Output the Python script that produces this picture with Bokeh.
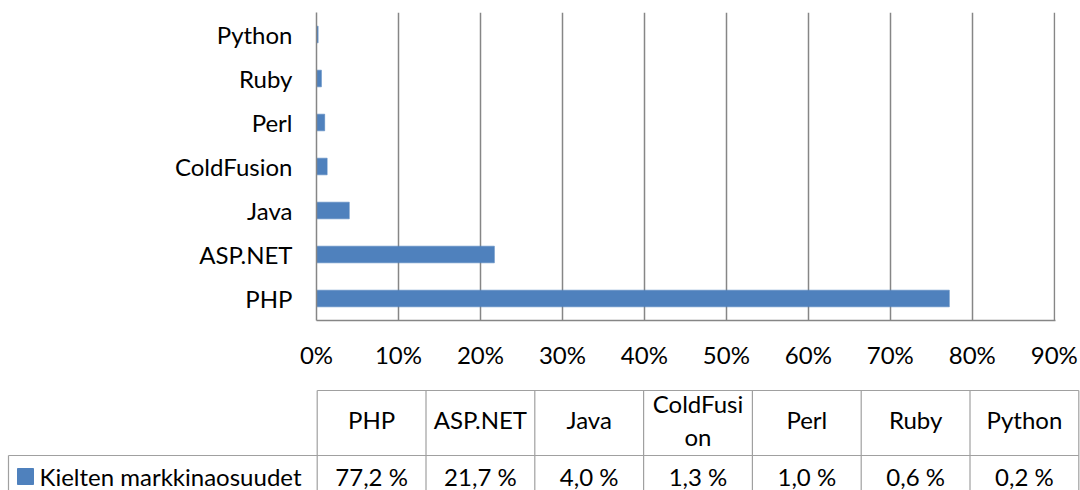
from bokeh.plotting import figure
from bokeh.models import Range1d, FactorRange, FixedTicker, PrintfTickFormatter, ColumnDataSource
from bokeh.embed import file_html
from bokeh.resources import INLINE
from bokeh.core.properties import value

# ---- data ----
categories = ["PHP", "ASP.NET", "Java", "ColdFusion", "Perl", "Ruby", "Python"]
shares = [77.2, 21.7, 4.0, 1.3, 1.0, 0.6, 0.2]
x_ticks = [0, 10, 20, 30, 40, 50, 60, 70, 80, 90]
series_name = "Kielten markkinaosuudet"
table_headers = ["PHP", "ASP.NET", "Java", "ColdFusi\non", "Perl", "Ruby", "Python"]
table_values = [f"{v:.1f} %".replace(".", ",") for v in shares]

# ---- style ----
FONT = "Lato"
FS = "24px"
BAR = "#4F81BD"
GRID = "#868686"
TLINE = "#A0A0A0"
TXT = "#000000"

W = 1080
H1 = 383
H2 = 107

# ---- bar chart ----
p = figure(width=W, height=H1,
           y_range=FactorRange(factors=categories),
           x_range=Range1d(0, 90.15),
           output_backend="svg", toolbar_location=None,
           min_border_left=316, min_border_right=25,
           min_border_top=12, min_border_bottom=63)
p.outline_line_color = None
p.background_fill_color = "white"
p.border_fill_color = "white"

src = ColumnDataSource(dict(cat=categories, share=shares))
p.hbar(y="cat", left=0, right="share", height=0.38, source=src,
       fill_color=BAR, line_color=BAR, line_width=0.5)

p.xaxis.ticker = FixedTicker(ticks=x_ticks)
p.xaxis.formatter = PrintfTickFormatter(format="%d%%")
p.xgrid.ticker = FixedTicker(ticks=x_ticks)
p.xgrid.grid_line_color = GRID
p.xgrid.grid_line_width = 1.5
p.ygrid.grid_line_color = None

for ax in (p.xaxis, p.yaxis):
    ax.axis_line_color = GRID
    ax.axis_line_width = 1.5
    ax.major_tick_line_color = None
    ax.minor_tick_line_color = None
    ax.major_tick_out = 0
    ax.major_tick_in = 0
    ax.major_label_text_font = FONT
    ax.major_label_text_font_size = FS
    ax.major_label_text_color = TXT
p.xaxis.major_label_standoff = 19
p.yaxis.major_label_standoff = 24

# ---- data table (separate root, so its frame is not aligned with the chart) ----
u = 108.8                      # px per column
x0 = -316.7 / u
x1 = (W - 316.7) / u
v = 65.0                       # px per header-row unit
y1 = (455 - H1) / v
y0 = (455 - (H1 + H2)) / v
leg_left = (8 - 316.7) / u
row_y = -21 / v
head_y = 0.55

t = figure(width=W, height=H2, x_range=Range1d(x0, x1), y_range=Range1d(y0, y1),
           output_backend="svg", toolbar_location=None,
           x_axis_location=None, y_axis_location=None,
           min_border_left=0, min_border_right=0, min_border_top=0, min_border_bottom=0)
t.outline_line_color = None
t.grid.visible = False
t.background_fill_color = "white"
t.border_fill_color = "white"

n = len(categories)
sx0 = [float(i) for i in range(n + 1)] + [0.0, leg_left, leg_left]
sx1 = [float(i) for i in range(n + 1)] + [float(n), float(n), leg_left]
sy0 = [1.0] * (n + 1) + [1.0, 0.0, 0.0]
sy1 = [y0] * (n + 1) + [1.0, 0.0, y0]
t.segment(x0=sx0, y0=sy0, x1=sx1, y1=sy1, line_color=TLINE, line_width=1.2)

cx = [i + 0.5 for i in range(n)]
t.text(x=cx, y=[head_y] * n, text=table_headers, text_align="center",
       text_baseline="middle", text_font=value(FONT), text_font_size=value(FS),
       text_color=TXT, text_line_height=1.15)
t.text(x=cx, y=[row_y] * n, text=table_values, text_align="center",
       text_baseline="middle", text_font=value(FONT), text_font_size=value(FS),
       text_color=TXT)

t.scatter(x=[(25 - 316.7) / u], y=[row_y], marker="square", size=16,
          fill_color=BAR, line_color=BAR)
t.text(x=[(39 - 316.7) / u], y=[row_y], text=[series_name], text_align="left",
       text_baseline="middle", text_font=value(FONT), text_font_size=value(FS),
       text_color=TXT)

open("out.html", "w").write(file_html([p, t], INLINE))
